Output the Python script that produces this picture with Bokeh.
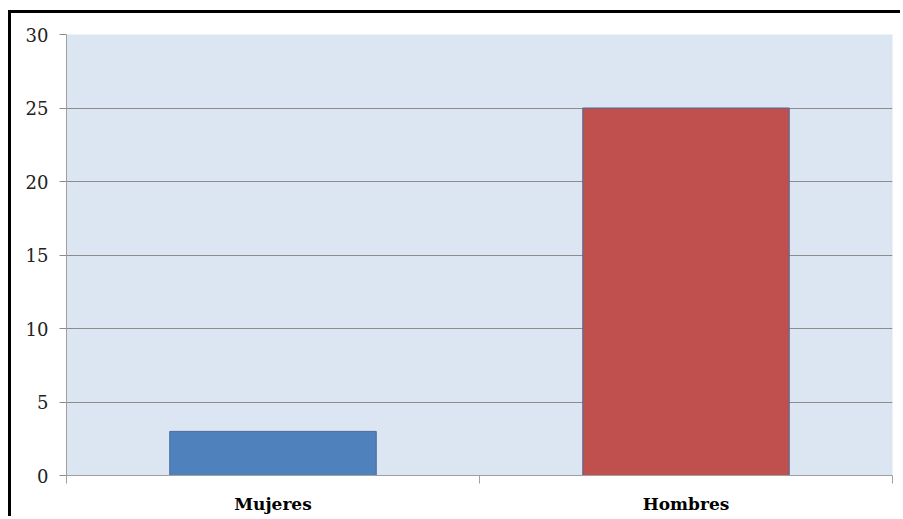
from bokeh.plotting import figure
from bokeh.models import FixedTicker, Range1d, ColumnDataSource
from bokeh.embed import file_html
from bokeh.resources import INLINE

categories = ["Mujeres", "Hombres"]
values = [3, 25]
bar_colors = ["#4F81BD", "#C0504D"]
y_ticks = [0, 5, 10, 15, 20, 25, 30]

xs = [i + 0.5 for i in range(len(categories))]
source = ColumnDataSource(dict(x=xs, top=values, color=bar_colors, name=categories))

p = figure(width=892, height=506, output_backend="svg", toolbar_location=None,
           x_range=Range1d(0, len(categories)), y_range=Range1d(0, 30),
           min_border_left=55, min_border_right=11, min_border_top=21, min_border_bottom=44)
p.styles = {"border-left": "3px solid black", "border-top": "3px solid black",
            "margin-top": "10px", "margin-left": "8px"}

p.background_fill_color = "#DCE6F2"
p.border_fill_color = "white"
p.outline_line_color = None

p.vbar(x="x", top="top", width=0.5, bottom=0, fill_color="color", line_color="#4A6B9C",
       line_width=1, source=source)

# y axis
p.yaxis.ticker = FixedTicker(ticks=y_ticks, minor_ticks=[])
p.yaxis.axis_line_color = "#A0A0A0"
p.yaxis.major_tick_line_color = "#8C8C8C"
p.yaxis.major_tick_out = 7
p.yaxis.major_tick_in = 0
p.yaxis.minor_tick_line_color = None
p.yaxis.major_label_text_font = "DejaVu Serif"
p.yaxis.major_label_text_font_size = "18px"
p.yaxis.major_label_text_color = "#222222"
p.yaxis.major_label_standoff = 11

# x axis
p.xaxis.ticker = FixedTicker(ticks=xs, minor_ticks=list(range(len(categories) + 1)))
p.xaxis.major_label_overrides = {x: c for x, c in zip(xs, categories)}
p.xaxis.axis_line_color = "#A0A0A0"
p.xaxis.major_tick_line_color = None
p.xaxis.minor_tick_line_color = "#A0A0A0"
p.xaxis.minor_tick_out = 8
p.xaxis.minor_tick_in = 0
p.xaxis.major_label_text_font = "DejaVu Serif"
p.xaxis.major_label_text_font_style = "bold"
p.xaxis.major_label_text_font_size = "17px"
p.xaxis.major_label_text_color = "black"
p.xaxis.major_label_standoff = 10

p.xgrid.grid_line_color = None
p.ygrid.ticker = FixedTicker(ticks=y_ticks)
p.ygrid.grid_line_color = "#8C8C8C"
p.ygrid.grid_line_width = 1

open("out.html", "w").write(file_html(p, INLINE))
